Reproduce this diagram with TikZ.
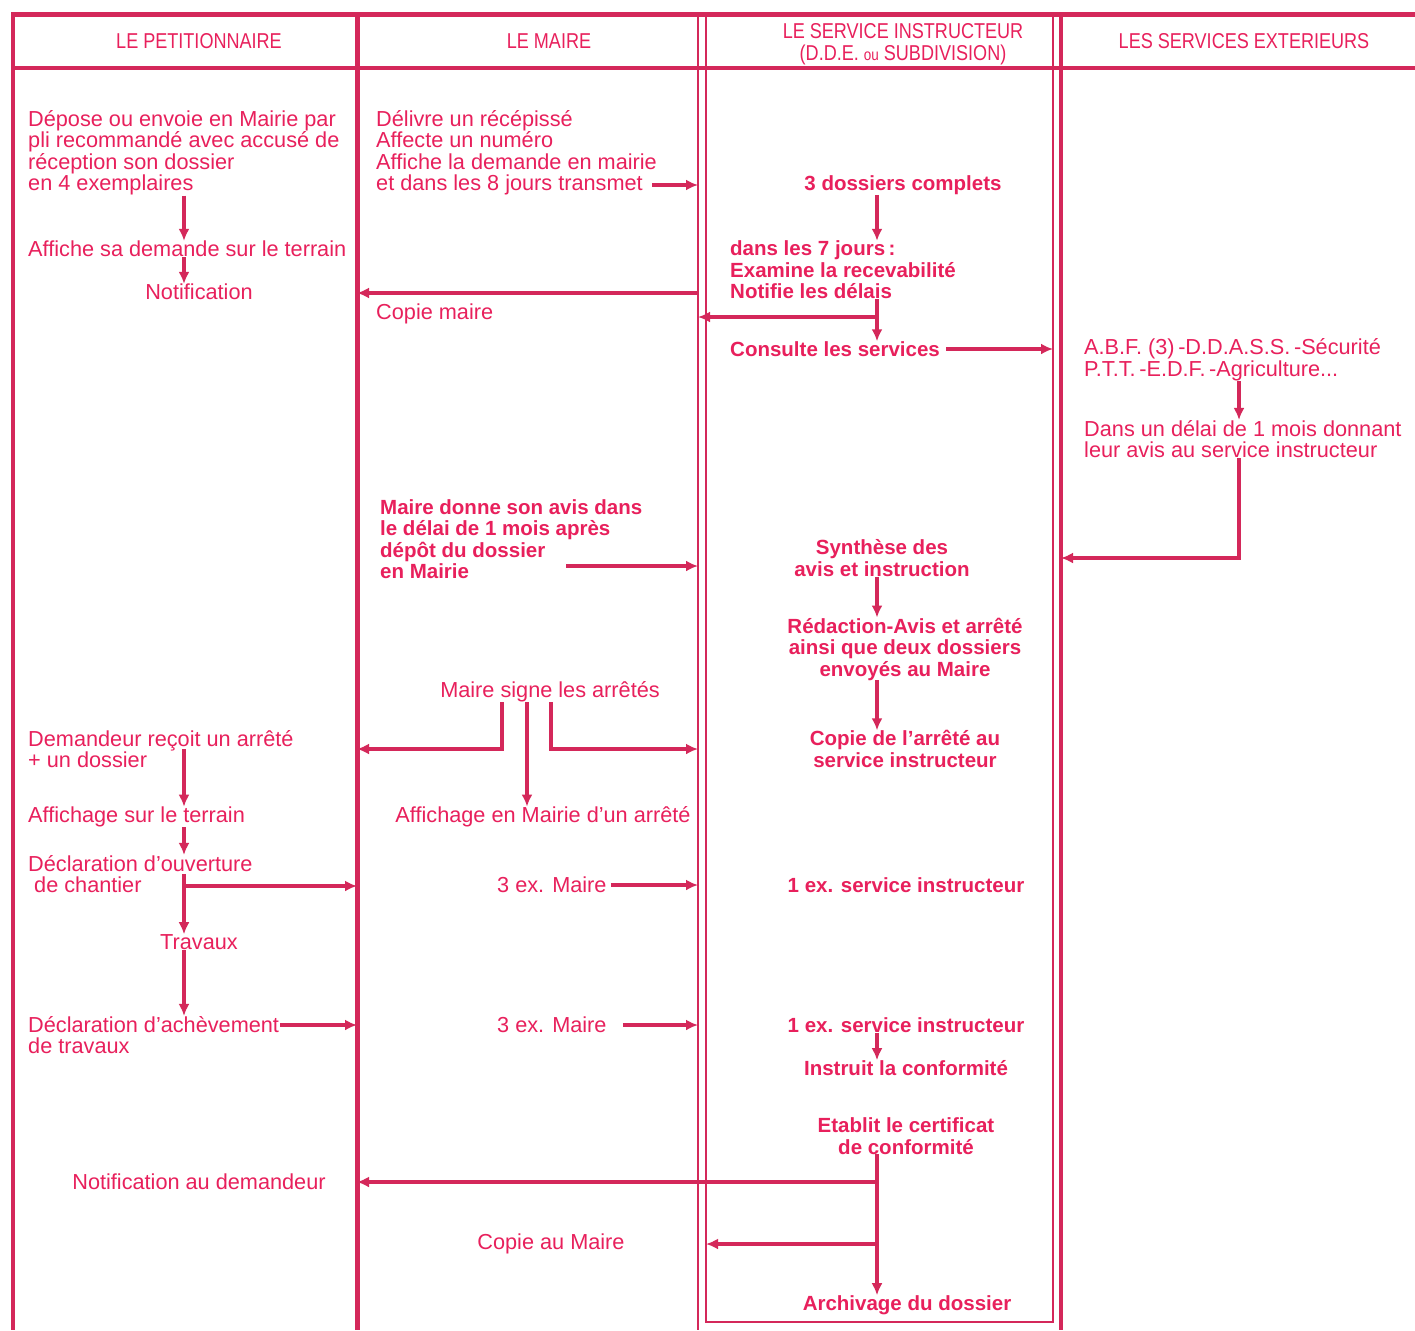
\documentclass[tikz,border=0pt]{standalone}
\usepackage{fontspec}
\setmainfont{Liberation Sans}
\newfontfamily\titrefont[FakeStretch=0.84]{Liberation Sans}
\usetikzlibrary{arrows.meta}
\definecolor{rose}{RGB}{232,32,92}
\definecolor{trait}{RGB}{212,40,90}

\begin{document}
\begin{tikzpicture}[x=1pt,y=-1pt,->,>={Latex[length=12pt,width=11pt]}]
   \useasboundingbox[fill=white,-] (0,0) rectangle (1415,1330);
   \tikzstyle{cadre}=[-, draw=trait]
   \tikzstyle{fleche}=[draw=trait, line width=3.4pt]
   \tikzstyle{titre}=[text=rose, align=center, inner sep=0pt, font=\titrefont\fontsize{21.5}{22}\selectfont]
   \tikzstyle{etape}=[text=rose, align=left, inner sep=0pt, font=\fontsize{21.7}{21.5}\selectfont]
   \tikzstyle{gras}=[etape, font=\fontsize{20.5}{21.5}\selectfont\bfseries]
   % grille des colonnes
   \draw[cadre, line width=5pt] (11,15) -- (1415,15);
   \draw[cadre, line width=3.5pt] (13,68) -- (1415,68);
   \foreach \x/\w in {13/4,357/5,698/2.5,1061/3.5}
      \draw[cadre, line width=\w pt] (\x,15) -- (\x,1330);
   \draw[cadre, line width=2.5pt] (706,15) -- (706,1322) -- (1053,1322) -- (1053,15);
   \foreach \i/\x in {1/357,2/698,3/706,4/1053,5/1061}
      \coordinate (b\i) at (\x,0);
   \coordinate (axe1) at (184,0);
   \coordinate (axe3) at (877,0);
   \coordinate (axe4) at (1239,0);
   % titres
   \node[titre] (h1) at (199,41) {LE PETITIONNAIRE};
   \node[titre] (h2) at (549,41) {LE MAIRE};
   \node[titre] (h3) at (903,44) {LE SERVICE INSTRUCTEUR\\(D.D.E. {\fontsize{16}{16}\selectfont ou} SUBDIVISION)};
   \node[titre] (h4) at (1244,41) {LES SERVICES EXTERIEURS};
   % le petitionnaire
   \node[etape, anchor=west] (depose) at (28,153) {Dépose ou envoie en Mairie par\\pli recommandé avec accusé de\\réception son dossier\\en 4 exemplaires};
   \node[etape, anchor=west] (affiche) at (28,249) {Affiche sa demande sur le terrain};
   \node[etape] (notif) at (199,292) {Notification};
   \node[etape, anchor=west] (recoit) at (28,749) {Demandeur reçoit un arrêté\\+ un dossier};
   \node[etape, anchor=west] (terrain) at (28,817) {Affichage sur le terrain};
   \node[etape, anchor=west] (ouverture) at (28,874) {Déclaration d’ouverture\\\hspace*{6pt}de chantier};
   \node[etape] (travaux) at (199,942) {Travaux};
   \node[etape, anchor=west] (acheve) at (28,1035) {Déclaration d’achèvement\\de travaux};
   \node[etape] (notifdem) at (199,1182) {Notification au demandeur};
   % le maire
   \node[etape, anchor=west] (delivre) at (376,153) {Délivre un récépissé\\Affecte un numéro\\Affiche la demande en mairie\\et dans les 8 jours transmet};
   \node[etape, anchor=west] (copiemaire) at (376,314) {Copie maire};
   \node[gras, anchor=west] (avis) at (380,539) {Maire donne son avis dans\\le délai de 1 mois après\\dépôt du dossier\\en Mairie};
   \node[etape] (signe) at (550,692) {Maire signe les arrêtés};
   \node[etape] (affmairie) at (543,817) {Affichage en Mairie d’un arrêté};
   \node[etape, anchor=west] (ex1) at (497,885) {3 ex. Maire};
   \node[etape, anchor=west] (ex2) at (497,1025) {3 ex. Maire};
   \node[etape] (copieau) at (551,1244) {Copie au Maire};
   % le service instructeur
   \node[gras] (complets) at (903,185) {3 dossiers complets};
   \node[gras, anchor=west] (jours) at (730,270) {dans les 7 jours\,:\\Examine la recevabilité\\Notifie les délais};
   \node[gras, anchor=west] (consulte) at (730,349) {Consulte les services};
   \node[gras, align=center] (synthese) at (882,558) {Synthèse des\\avis et instruction};
   \node[gras, align=center] (redaction) at (905,649) {Rédaction-Avis et arrêté\\ainsi que deux dossiers\\envoyés au Maire};
   \node[gras, align=center] (copiearr) at (905,749) {Copie de l’arrêté au\\service instructeur};
   \node[gras] (exserv1) at (906,885) {1 ex. service instructeur};
   \node[gras] (exserv2) at (906,1025) {1 ex. service instructeur};
   \node[gras] (instruit) at (906,1068) {Instruit la conformité};
   \node[gras, align=center] (etablit) at (906,1136) {Etablit le certificat\\de conformité};
   \node[gras] (archivage) at (907,1305) {Archivage du dossier};
   % les services exterieurs
   \node[etape, anchor=west] (abf) at (1084,360) {A.B.F. (3)\,-D.D.A.S.S.\,-Sécurité\\P.T.T.\,-E.D.F.\,-Agriculture...};
   \node[etape, anchor=west] (delai) at (1084,439) {Dans un délai de 1 mois donnant\\leur avis au service instructeur};
   % points de depart
   \coordinate (transmet) at (652,185);
   \coordinate (copie) at (698,293);
   \coordinate (t1) at (877,317);
   \coordinate (mairie) at (566,566);
   \coordinate (chantier) at (184,886);
   \coordinate (achev) at (280,1025);
   % fleches
   \draw[fleche] (depose.south -| axe1) -- (affiche.north -| axe1);
   \draw[fleche] (affiche.south -| axe1) -- (notif.north -| axe1);
   \draw[fleche] (recoit.center -| axe1) -- (terrain.north -| axe1);
   \draw[fleche] (terrain.south -| axe1) -- (ouverture.north -| axe1);
   \draw[fleche] (ouverture.center -| axe1) -- (travaux.north -| axe1);
   \draw[fleche] (chantier) -- (chantier -| b1);
   \draw[fleche] (travaux.south -| axe1) -- (acheve.north -| axe1);
   \draw[fleche] (achev) -- (achev -| b1);
   \draw[fleche] (transmet) -- (transmet -| b2);
   \draw[fleche] (copie) -- (copie -| b1);
   \draw[fleche] (mairie) -- (mairie -| b2);
   \draw[fleche] ([xshift=-48pt]signe.south) |- (recoit -| b1);
   \draw[fleche] ([xshift=-23pt]signe.south) -- ([xshift=-23pt]signe.south |- affmairie.north);
   \draw[fleche] ([xshift=1pt]signe.south) |- (recoit -| b2);
   \draw[fleche] ([xshift=4pt]ex1.east) -- (ex1 -| b2);
   \draw[fleche] ([xshift=16pt]ex2.east) -- (ex2 -| b2);
   \draw[fleche] (complets.south -| axe3) -- (jours.north -| axe3);
   \draw[fleche] (jours.south -| axe3) -- (consulte.north -| axe3);
   \draw[fleche] (t1) -- (t1 -| b2);
   \draw[fleche] ([xshift=6pt]consulte.east) -- (consulte -| b4);
   \draw[fleche] (abf.south -| axe4) -- (delai.north -| axe4);
   \draw[fleche] (delai.south -| axe4) |- (synthese -| b5);
   \draw[fleche] (synthese.south -| axe3) -- (redaction.north -| axe3);
   \draw[fleche] (redaction.south -| axe3) -- (copiearr.north -| axe3);
   \draw[fleche] (exserv2.south -| axe3) -- (instruit.north -| axe3);
   \draw[fleche] (etablit.south -| axe3) -- (archivage.north -| axe3);
   \draw[fleche] (notifdem -| axe3) -- (notifdem -| b1);
   \draw[fleche] (copieau -| axe3) -- (copieau -| b3);
\end{tikzpicture}
\end{document}
